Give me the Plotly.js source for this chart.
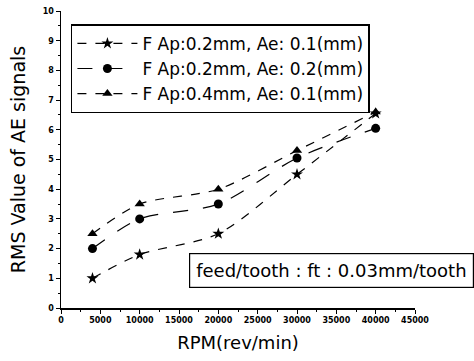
<!DOCTYPE html>
<html>
<head>
<meta charset="utf-8">
<script src="https://cdn.plot.ly/plotly-3.0.1.min.js"></script>
<style>html,body{margin:0;padding:0;background:#fff;}#chart{width:474px;height:361px;}</style>
</head>
<body>
<div id="chart"></div>
<script>
const rpm = [4000, 10000, 20000, 30000, 40000];
const seriesNames = ["F Ap:0.2mm, Ae: 0.1(mm)", "F Ap:0.2mm, Ae: 0.2(mm)", "F Ap:0.4mm, Ae: 0.1(mm)"];
const starVals = [1.0, 1.8, 2.5, 4.5, 6.55];
const circleVals = [2.0, 3.0, 3.5, 5.05, 6.05];
const triangleVals = [2.5, 3.5, 4.0, 5.3, 6.6];
const xTicks = [0, 5000, 10000, 15000, 20000, 25000, 30000, 35000, 40000, 45000];
const yTicks = [0, 1, 2, 3, 4, 5, 6, 7, 8, 9, 10];
const noteText = "feed/tooth : ft : 0.03mm/tooth";

const font = "DejaVu Sans, sans-serif";
function tr(name, y, sym, dash) {
  return {
    x: rpm, y: y, name: name, type: "scatter", mode: "lines+markers",
    line: {color: "#000", width: 1.2, dash: dash, shape: "spline", smoothing: 0.8},
    marker: {symbol: sym, size: 9, color: "#000"}
  };
}
const data = [
  tr(seriesNames[0], starVals, "star", "dash"),
  tr(seriesNames[1], circleVals, "circle", "longdash"),
  tr(seriesNames[2], triangleVals, "triangle-up", "dash")
];
const layout = {
  width: 474, height: 361,
  margin: {l: 61, r: 59, t: 11, b: 53},
  paper_bgcolor: "#fff", plot_bgcolor: "#fff",
  showlegend: true,
  legend: {
    x: 0.028, y: 0.955, xanchor: "left", yanchor: "top",
    bordercolor: "#000", borderwidth: 1.5, bgcolor: "#fff",
    font: {family: font, size: 17, color: "#000"},
    tracegroupgap: 0, itemwidth: 60
  },
  xaxis: {
    range: [0, 45000], tickvals: xTicks, ticktext: xTicks.map(String),
    showline: true, linecolor: "#000", linewidth: 1.5, showgrid: false, zeroline: false,
    ticks: "outside", ticklen: 4, tickcolor: "#000",
    minor: {dtick: 2500, ticks: "outside", ticklen: 2, tickcolor: "#000"},
    tickfont: {family: "DejaVu Sans", size: 8, color: "#000", weight: "bold"},
    title: {text: "RPM(rev/min)", font: {family: font, size: 18, color: "#000"}, standoff: 12}
  },
  yaxis: {
    range: [0, 10], tickvals: yTicks, ticktext: yTicks.map(String),
    showline: true, linecolor: "#000", linewidth: 1.5, showgrid: false, zeroline: false,
    ticks: "outside", ticklen: 4, tickcolor: "#000",
    minor: {dtick: 0.5, ticks: "outside", ticklen: 2, tickcolor: "#000"},
    tickfont: {family: "DejaVu Sans", size: 8, color: "#000", weight: "bold"},
    title: {text: "RMS Value of AE signals", font: {family: font, size: 19, color: "#000"}, standoff: 12}
  },
  annotations: [{
    xref: "paper", yref: "paper", x: 1.166, y: 0.125, xanchor: "right", yanchor: "middle",
    text: noteText, showarrow: false,
    font: {family: font, size: 18, color: "#000"},
    bordercolor: "#000", borderwidth: 1.2, borderpad: 6, bgcolor: "#fff"
  }]
};
Plotly.newPlot("chart", data, layout, {staticPlot: true, displayModeBar: false});
</script>
</body>
</html>
